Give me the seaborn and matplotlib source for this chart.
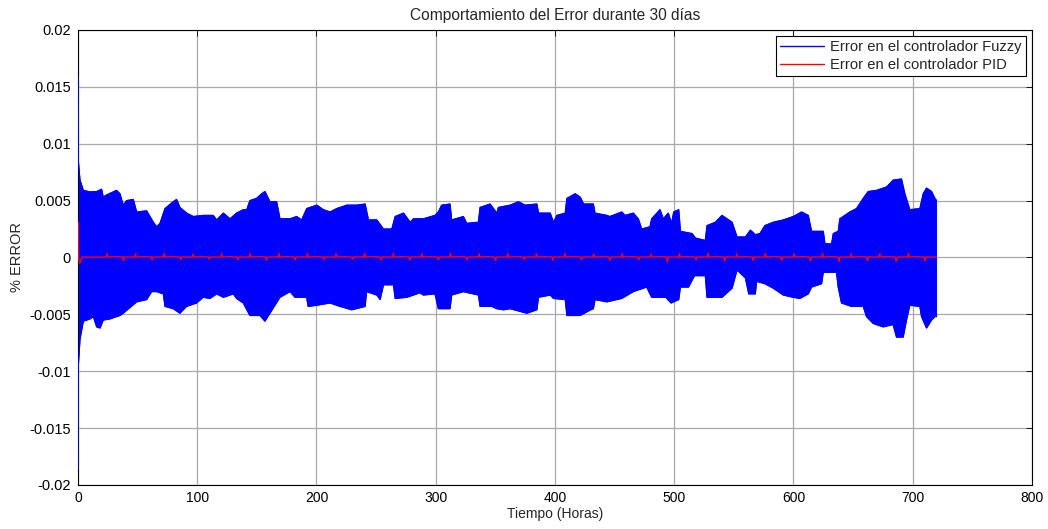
import numpy as np
import pandas as pd
import matplotlib
matplotlib.use("Agg")
import matplotlib.pyplot as plt
import seaborn as sns

# ---------------------------------------------------------------
# Fuzzy controller error: upper and lower envelope of the oscillation
# (hours, % error)
# ---------------------------------------------------------------
fuzzy_hi_t = [0, 0.3, 1.7, 4.5, 10.1, 15.7, 19.8, 21.2, 24, 32.4, 35.2, 38, 40.8, 46.4,
              49.2, 57.6, 63.2, 66, 68.8, 73, 79.9, 82.7, 85.5, 91.1, 96.7, 105, 113.5,
              116.3, 121.9, 127.5, 133, 138.6, 141.5, 144.2, 149.8, 154, 156.8, 161, 166.6,
              169.4, 177.8, 183.4, 187.6, 191.8, 200.2, 205.8, 211.4, 217, 225.4, 233.8,
              240.8, 243.6, 250.6, 256.2, 263.2, 266, 273, 278.6, 281.4, 289.6, 299.4,
              302.2, 305, 312, 313.4, 323.2, 326, 335.8, 337.2, 345.6, 351.2, 352.6, 362.4,
              369.4, 375, 384.8, 386.2, 396, 398.8, 401.6, 408.6, 410, 417, 421.2, 424,
              432.2, 433.6, 443.4, 446, 456, 458.8, 465.7, 469.9, 472.7, 479.7, 481.1,
              488.1, 490.9, 495, 497.8, 499.6, 503.8, 505.2, 515, 517.8, 526.1, 527.5,
              534.5, 540.1, 548.5, 552.7, 559.7, 563.9, 568.1, 571.9, 576, 583.1, 591.5,
              599.8, 606.8, 612.4, 615.2, 625, 626.4, 632, 633.4, 637.5, 638.9, 647.3,
              652.9, 658.5, 662.7, 669.7, 678.1, 683.6, 690.6, 693.4, 697.6, 706, 708.8,
              711.6, 715.8, 718.6, 720]
fuzzy_hi_v = [0.0158, 0.0085, 0.0068, 0.0059, 0.00576, 0.0058, 0.0060, 0.0053, 0.0055,
              0.0059, 0.0056, 0.0046, 0.0050, 0.0051, 0.0040, 0.0041, 0.0031, 0.0027,
              0.0030, 0.0043, 0.0049, 0.0051, 0.0044, 0.0039, 0.0036, 0.0037, 0.0037,
              0.0033, 0.0039, 0.0034, 0.0039, 0.0042, 0.0042, 0.0050, 0.0052, 0.0056,
              0.0058, 0.0049, 0.0049, 0.0034, 0.0034, 0.0036, 0.0033, 0.0043, 0.0046,
              0.0042, 0.0040, 0.0043, 0.0046, 0.0046, 0.0047, 0.0033, 0.0033, 0.0025,
              0.0025, 0.0036, 0.0039, 0.0031, 0.0034, 0.0034, 0.0037, 0.0040, 0.0046,
              0.0047, 0.0033, 0.0036, 0.0030, 0.0031, 0.0044, 0.0047, 0.0039, 0.0044,
              0.0046, 0.0049, 0.0046, 0.0047, 0.0039, 0.0039, 0.0031, 0.0037, 0.0039,
              0.0052, 0.0056, 0.0053, 0.0047, 0.0047, 0.0039, 0.0037, 0.0036, 0.0040,
              0.0037, 0.0039, 0.0034, 0.0025, 0.0027, 0.0034, 0.0042, 0.0034, 0.0039,
              0.0030, 0.0040, 0.0042, 0.0023, 0.0021, 0.0017, 0.0015, 0.0028, 0.0031,
              0.0037, 0.0031, 0.0018, 0.0018, 0.0024, 0.0020, 0.0021, 0.0028, 0.0031,
              0.0033, 0.0036, 0.0040, 0.0037, 0.0023, 0.0023, 0.0012, 0.0012, 0.0021,
              0.0023, 0.0034, 0.0040, 0.0043, 0.0052, 0.0058, 0.0059, 0.0062, 0.0068,
              0.0069, 0.0056, 0.0042, 0.0043, 0.0056, 0.0061, 0.0058, 0.0052, 0.0050]

fuzzy_lo_t = [0, 0.3, 1.7, 4.5, 10.1, 12.9, 15.7, 18.5, 21.2, 26.8, 35.2, 38, 49.2, 57.6,
              61.8, 66, 71.6, 73, 79.9, 85.5, 91.1, 99.5, 105, 110.7, 116.3, 121.9, 130.3,
              133, 138.6, 144.2, 152.6, 156.8, 161, 169.4, 177.8, 182, 191.8, 193, 200.2,
              211.4, 219.8, 229.6, 240.8, 242, 250.6, 253.4, 256.2, 264.6, 266, 275.8,
              286.8, 289.6, 299.4, 302.2, 312, 313.4, 323.2, 335.8, 337.2, 347, 351.2,
              356.8, 362.4, 376.4, 384.8, 386.2, 396, 398.8, 408.6, 410, 418.4, 421, 430,
              432.2, 433.6, 443.4, 456, 465.7, 476.9, 481.1, 493, 497.4, 503.8, 505.2, 512,
              517, 526.1, 527.5, 540.1, 548.5, 552.7, 559.7, 562.5, 568, 569.1, 576, 583.1,
              591.5, 599.8, 605.4, 612.4, 615.2, 623.6, 625, 636.1, 637.5, 640.3, 648.7,
              658.5, 661.3, 666.9, 675.2, 683.6, 686.4, 692, 694.8, 697.6, 706, 707.4,
              711.6, 715.8, 718.6, 720]
fuzzy_lo_v = [-0.0186, -0.0095, -0.0072, -0.0056, -0.0054, -0.0052, -0.0061, -0.0062,
              -0.0055, -0.0054, -0.0051, -0.0049, -0.0039, -0.0037, -0.0030, -0.0030,
              -0.0032, -0.0043, -0.0045, -0.0049, -0.0043, -0.0040, -0.0035, -0.0036,
              -0.0032, -0.0035, -0.0032, -0.0036, -0.0040, -0.0051, -0.0051, -0.0056,
              -0.0049, -0.0035, -0.0030, -0.0035, -0.0035, -0.0043, -0.0042, -0.0040,
              -0.0043, -0.0046, -0.0043, -0.0030, -0.0033, -0.0037, -0.0024, -0.0024,
              -0.0036, -0.0035, -0.0031, -0.0033, -0.0032, -0.0045, -0.0045, -0.0033,
              -0.0030, -0.0033, -0.0043, -0.0043, -0.0045, -0.0046, -0.0045, -0.0049,
              -0.0046, -0.0035, -0.0033, -0.0036, -0.0037, -0.0051, -0.0051, -0.0051,
              -0.0046, -0.0045, -0.0037, -0.0039, -0.0036, -0.0030, -0.0026, -0.0035,
              -0.0035, -0.0040, -0.0037, -0.0026, -0.0026, -0.0016, -0.0016, -0.0035,
              -0.0035, -0.0027, -0.0011, -0.0018, -0.0032, -0.0032, -0.0021, -0.0023,
              -0.0027, -0.0033, -0.0035, -0.0036, -0.0032, -0.0026, -0.0023, -0.0013,
              -0.0013, -0.0026, -0.0040, -0.0043, -0.0043, -0.0052, -0.0058, -0.0061,
              -0.0059, -0.0070, -0.0070, -0.0055, -0.0042, -0.0043, -0.0052, -0.0062,
              -0.0055, -0.0052, -0.0052]

# ---------------------------------------------------------------
# PID controller error
# ---------------------------------------------------------------
pid_start_t = [0, 0, 0.6, 1.5, 3.5]
pid_start_v = [0.0, 0.0031, -0.0002, -0.0005, 0.00003]
pid_spike_t = [24.4, 48.4, 72.4, 96.4, 120.4, 144.4, 168.4, 192.4, 216.4, 240.4,
               264.4, 288.4, 312.4, 336.4, 360.4, 384.4, 408.4, 432.4, 456.4, 480.4,
               504.4, 528.4, 552.4, 576.4, 600.4, 624.4, 648.4, 672.4, 696.4]
pid_spike_v = [0.00035, 0.00032, 0.00035, 0.00030, 0.00033, 0.00036, 0.00034, 0.00035,
               0.00033, 0.00034, 0.00035, 0.00033, 0.00036, 0.00032, 0.00034, 0.00033,
               0.00035, 0.00032, 0.00034, 0.00030, 0.00033, 0.00036, 0.00032, 0.00034,
               0.00033, 0.00035, 0.00032, 0.00034, 0.00035]
pid_dip_v = [-0.00030, -0.00020, -0.00020, -0.00015, -0.00020, -0.00025, -0.00020,
             -0.00020, -0.00015, -0.00020, -0.00025, -0.00020, -0.00020, -0.00025,
             -0.00020, -0.00025, -0.00020, -0.00025, -0.00020, -0.00040, -0.00020,
             -0.00030, -0.00025, -0.00025, -0.00030, -0.00035, -0.00030, -0.00035,
             -0.00030]
pid_level = 0.00004
pid_end = 720

x_ticks = [0, 100, 200, 300, 400, 500, 600, 700, 800]
y_ticks = [0.02, 0.015, 0.01, 0.005, 0, -0.005, -0.01, -0.015, -0.02]
y_tick_labels = ["0.02", "0.015", "0.01", "0.005", "0", "-0.005", "-0.01", "-0.015", "-0.02"]

# assemble the PID trace: start transient, then a daily spike followed by a dip
pid_t, pid_v = list(pid_start_t), list(pid_start_v)
for s, peak, dip in zip(pid_spike_t, pid_spike_v, pid_dip_v):
    pid_t += [s - 0.6, s, s + 0.6, s + 7.0, s + 13.0, s + 13.8, s + 14.6]
    pid_v += [pid_level, peak, pid_level, pid_level + 0.00003, pid_level, dip, pid_level]
pid_t.append(pid_end)
pid_v.append(pid_level)
pid_df = pd.DataFrame({"t": pid_t, "v": pid_v})
hi_df = pd.DataFrame({"t": fuzzy_hi_t, "v": fuzzy_hi_v})
lo_df = pd.DataFrame({"t": fuzzy_lo_t, "v": fuzzy_lo_v})

sns.set_theme(style="whitegrid")
plt.rcParams['font.family'] = ['Liberation Sans', 'DejaVu Sans']
plt.rcParams['font.size'] = 10

fig = plt.figure(figsize=(10.48, 5.29), dpi=100)
ax = fig.add_axes([0.0744, 0.0832, 0.9103, 0.8601])
ax.set_facecolor("white")

blue = "#0000ff"
red = "#ff0000"

# band covered by the fast oscillation of the fuzzy error
band_x = np.r_[fuzzy_hi_t, fuzzy_lo_t[::-1]]
band_y = np.r_[fuzzy_hi_v, fuzzy_lo_v[::-1]]
ax.fill(band_x, band_y, color=blue, lw=0.7, zorder=2)

sns.lineplot(data=hi_df, x="t", y="v", ax=ax, color=blue, lw=0.9, sort=False,
             estimator=None, label="Error en el controlador Fuzzy", zorder=3)
sns.lineplot(data=lo_df, x="t", y="v", ax=ax, color=blue, lw=0.9, sort=False,
             estimator=None, legend=False, zorder=3)
sns.lineplot(data=pid_df, x="t", y="v", ax=ax, color=red, lw=1.0, sort=False,
             estimator=None, label="Error en el controlador PID", zorder=4)

ax.set_xlim(0, 800)
ax.set_ylim(-0.02, 0.02)
ax.set_xticks(x_ticks)
ax.set_xticklabels([str(v) for v in x_ticks])
ax.set_yticks(y_ticks)
ax.set_yticklabels(y_tick_labels)

ax.grid(True, color="#a8a8a8", lw=0.9, ls="-")
ax.set_axisbelow(True)
for sp in ax.spines.values():
    sp.set_color("black")
    sp.set_linewidth(0.8)
ax.tick_params(direction="in", top=True, right=True, length=4, width=0.6,
               colors="black", labelsize=10.5, pad=5)
ax.tick_params(axis="x", labelsize=10, pad=4)

ax.set_title("Comportamiento del Error durante 30 días", fontsize=11.2, pad=7)
ax.set_xlabel("Tiempo (Horas)", fontsize=10, labelpad=2)
ax.set_ylabel("% ERROR", fontsize=10.5, labelpad=4)

leg = ax.legend(loc="upper right", frameon=True, fancybox=False, framealpha=1,
                edgecolor="black", fontsize=10.6, borderaxespad=0.4, handlelength=3.0,
                handletextpad=0.4, borderpad=0.3, labelspacing=0.25)
leg.get_frame().set_linewidth(0.8)
for line in leg.get_lines():
    line.set_linewidth(1.0)

fig.savefig("out.png", dpi=100)
